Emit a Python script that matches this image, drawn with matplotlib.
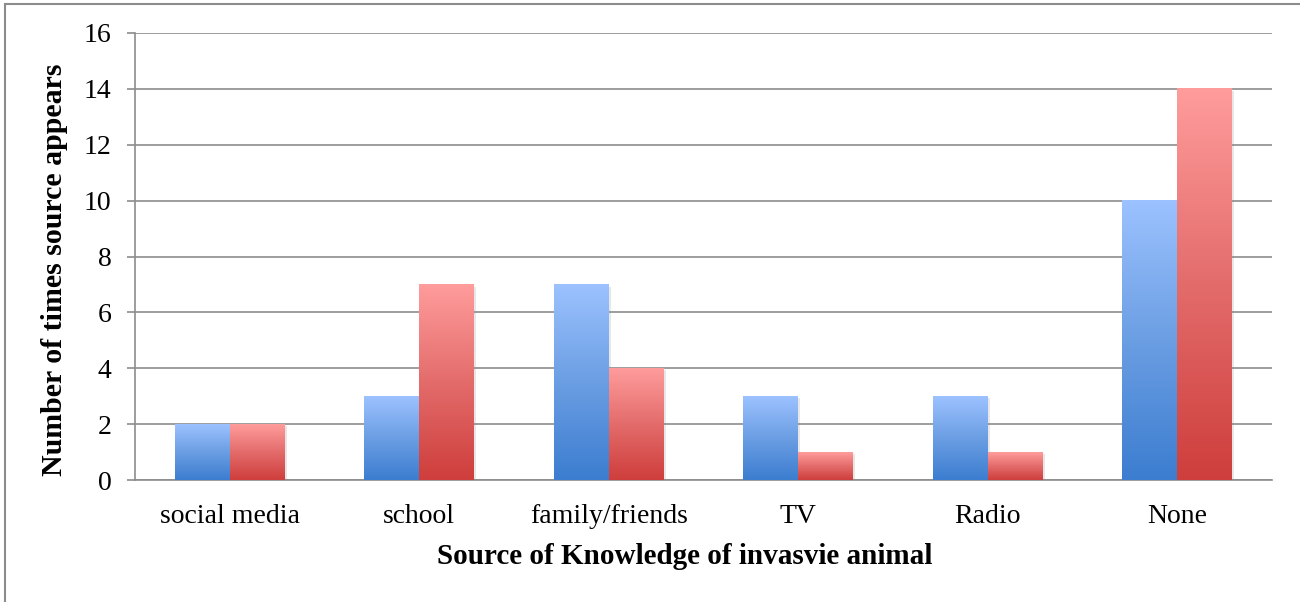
import numpy as np
import matplotlib
matplotlib.use("Agg")
import matplotlib.pyplot as plt
from matplotlib.colors import LinearSegmentedColormap
from matplotlib.patches import Rectangle
import matplotlib.patheffects as pe

categories = ["social media", "school", "family/friends", "TV", "Radio", "None"]
series_blue = [2, 3, 7, 3, 3, 10]
series_red = [2, 7, 4, 1, 1, 14]
y_ticks = [0, 2, 4, 6, 8, 10, 12, 14, 16]

plt.rcParams["font.family"] = ["Liberation Serif", "DejaVu Serif"]

fig = plt.figure(figsize=(13, 6.02), dpi=100)
ax = fig.add_axes([135 / 1300, 1 - 480 / 602, (1272 - 135) / 1300, (480 - 33) / 602])

# outer frame (top and left edges visible)
fig.patches.append(Rectangle((5 / 1300, -0.1), 1.2, 1 - 4 / 602 + 0.1,
                             transform=fig.transFigure, fill=False,
                             edgecolor="#8c8c8c", linewidth=1.5))

blue_cmap = LinearSegmentedColormap.from_list("b", ["#3c7dd0", "#6b9ee3", "#9cc2ff"])
red_cmap = LinearSegmentedColormap.from_list("r", ["#ce3e3c", "#e36c6b", "#ff9c9c"])

x = np.arange(len(categories))
w = 0.29
grad = np.linspace(0, 1, 256).reshape(-1, 1)

for vals, off, cmap in [(series_blue, -w / 2, blue_cmap), (series_red, w / 2, red_cmap)]:
    bars = ax.bar(x + off, vals, width=w, color="white", linewidth=0, zorder=3,
                  path_effects=[pe.SimplePatchShadow(offset=(1.5, -1.5), shadow_rgbFace="#888888", alpha=0.2),
                                pe.Normal()])
    for b in bars:
        x0, y0 = b.get_x(), b.get_y()
        ax.imshow(grad, extent=[x0, x0 + b.get_width(), y0, y0 + b.get_height()],
                  origin="lower", aspect="auto", cmap=cmap, zorder=4, interpolation="bicubic")

ax.set_xlim(-0.5, len(categories) - 0.5)
ax.set_ylim(0, 16)
ax.set_yticks(y_ticks)
ax.set_xticks(x)
ax.set_xticklabels(categories)

ax.yaxis.grid(True, color="#8c8c8c", linewidth=1.2, zorder=0)
ax.set_axisbelow(True)
for s in ["top", "right"]:
    ax.spines[s].set_visible(False)
ax.spines["left"].set_color("#8c8c8c")
ax.spines["left"].set_linewidth(1.2)
ax.spines["bottom"].set_color("#8c8c8c")
ax.spines["bottom"].set_linewidth(1.2)
ax.tick_params(axis="y", length=6, width=1.2, color="#8c8c8c", pad=11, labelsize=20)
ax.tick_params(axis="x", length=0, pad=17, labelsize=20)

fig.text(685 / 1300, 1 - 556 / 602, "Source of Knowledge of invasvie animal",
         ha="center", va="center", fontsize=21, fontweight="bold")
fig.text(55 / 1300, 1 - 270 / 602, "Number of times source appears",
         ha="center", va="center", rotation=90, fontsize=21.5, fontweight="bold")

fig.savefig("out.png", dpi=100)
